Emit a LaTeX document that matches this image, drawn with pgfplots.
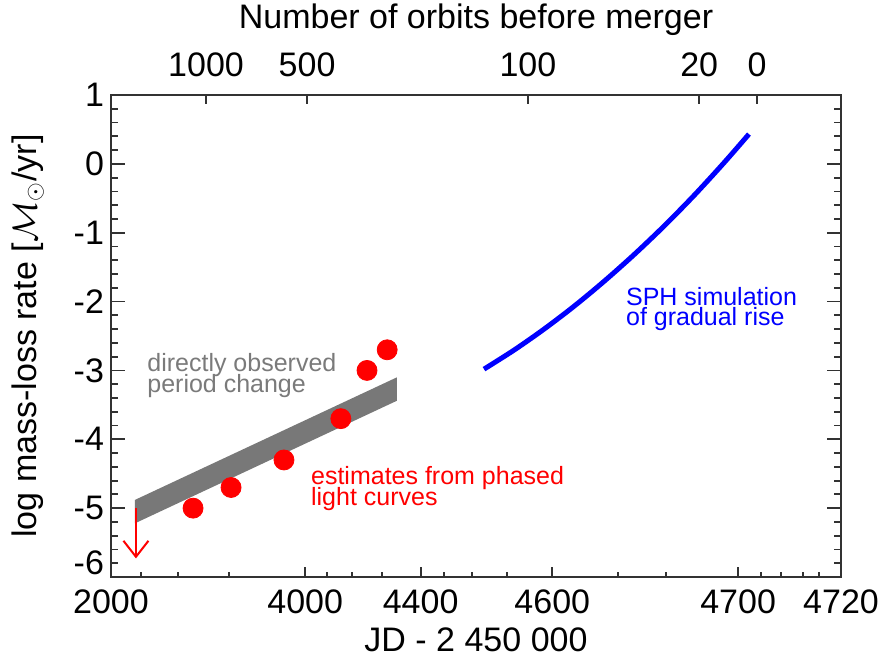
\documentclass[border=0pt]{standalone}
\usepackage{fontspec}
\setmainfont{Liberation Sans}
\usepackage{pgfplots}
\pgfplotsset{compat=1.18}
\usetikzlibrary{arrows.meta}
\definecolor{bandgray}{RGB}{120,120,120}
\definecolor{txtgray}{RGB}{122,122,122}
\definecolor{axgray}{RGB}{50,50,50}
\pgfplotsset{
  jdaxis/.style={
    scale only axis, width=365pt, height=241pt,
    x coord trafo/.code={\pgfmathparse{-log10(4740-##1)}},
    x coord inv trafo/.code={\pgfmathparse{4740-10^(-##1)}},
    xmin=2000, xmax=4720, ymin=-6, ymax=1,
    tick align=inside,
    axis line style={axgray, line width=0.9pt},
    every tick/.style={axgray, line width=0.9pt},
    major tick length=7pt, minor tick length=3.5pt,
    tick label style={font=\fontsize{17}{20}\selectfont},
    label style={font=\fontsize{17}{20}\selectfont},
    /pgf/number format/assume math mode=true,
  }
}
\begin{document}
\begin{tikzpicture}
\begin{axis}[jdaxis, at={(0,0)}, anchor=south west,
  xtick pos=left,
  xtick={2000,4000,4400,4600,4700,4720},
  xticklabels={2000,4000,4400,4600,4700,4720},
  minor xtick={2500,3000,3500,4100,4200,4300,4450,4500,4550,4650,4675,4705.75,4710,4714.2,4716.8},
  xtick style={/pgfplots/major tick length=5pt, /pgfplots/minor tick length=2.5pt},
  xticklabel style={anchor=center, yshift=-12.5pt},
  ytick={-6,-5,-4,-3,-2,-1,0,1},
  yticklabels={{},-5,-4,-3,-2,-1,0,1},
  minor y tick num=4,
  extra y ticks={-5.8}, extra y tick labels={-6},
  extra y tick style={major tick length=0pt},
  xlabel={JD - 2 450 000},
  xlabel style={at={(axis description cs:0.5,-0.1307)}, anchor=center},
  ylabel={log mass-loss rate [$\mathcal{M}_{\odot}$/yr]},
  ylabel style={at={(axis description cs:-0.1137,0.5)}, anchor=center},
]
% directly observed period change (band)
\addplot[fill=bandgray, draw=none] coordinates {(2409,-4.88) (4341,-3.10) (4341,-3.44) (2409,-5.22)} -- cycle;
% SPH simulation of gradual rise
\addplot[blue, line width=2.5pt, smooth] coordinates {
 (4518.2,-2.981) (4558.8,-2.705) (4592.0,-2.400) (4619.1,-2.068) (4641.2,-1.707)
 (4659.3,-1.319) (4674.1,-0.903) (4686.2,-0.457) (4696.0,0.016) (4702.8,0.432)};
% estimates from phased light curves
\addplot[only marks, mark=*, mark size=5pt, red] coordinates {
 (3164,-5.0) (3520,-4.7) (3886,-4.3) (4158,-3.7) (4252,-3.0) (4314,-2.7)};
% upper limit
\addplot[red, line width=1pt, -{Straight Barb[length=8pt,width=12.5pt]}] coordinates {(2424,-5.0) (2424,-5.73)};
\node[anchor=base west, text=txtgray, font=\fontsize{12.5}{15}\selectfont, inner sep=0pt] at (rel axis cs:0.0493,0.4259) {directly observed};
\node[anchor=base west, text=txtgray, font=\fontsize{12.5}{15}\selectfont, inner sep=0pt] at (rel axis cs:0.0493,0.3824) {period change};
\node[anchor=base west, text=red, font=\fontsize{12.5}{15}\selectfont, inner sep=0pt] at (rel axis cs:0.2736,0.1909) {estimates from phased};
\node[anchor=base west, text=red, font=\fontsize{12.5}{15}\selectfont, inner sep=0pt] at (rel axis cs:0.2736,0.1494) {light curves};
\node[anchor=base west, text=blue, font=\fontsize{12.5}{15}\selectfont, inner sep=0pt] at (rel axis cs:0.7051,0.5643) {SPH simulation};
\node[anchor=base west, text=blue, font=\fontsize{12.5}{15}\selectfont, inner sep=0pt] at (rel axis cs:0.7051,0.5228) {of gradual rise};
\end{axis}
\begin{axis}[jdaxis, at={(0,0)}, anchor=south west,
  axis x line*=top, axis y line=none,
  major tick length=4.7pt,
  xtick={3296,4009,4575,4688,4704.8},
  xticklabels={1000,500,100,20,0},
  xticklabel style={anchor=center, yshift=15pt},
  xlabel={Number of orbits before merger},
  xlabel style={at={(axis description cs:0.5,1.1556)}, anchor=center},
]
\addplot[draw=none] coordinates {(3000,0)};
\end{axis}
\pgfresetboundingbox
\path (-55.5pt,-41.5pt) rectangle (385pt,288.5pt);
\end{tikzpicture}
\end{document}
